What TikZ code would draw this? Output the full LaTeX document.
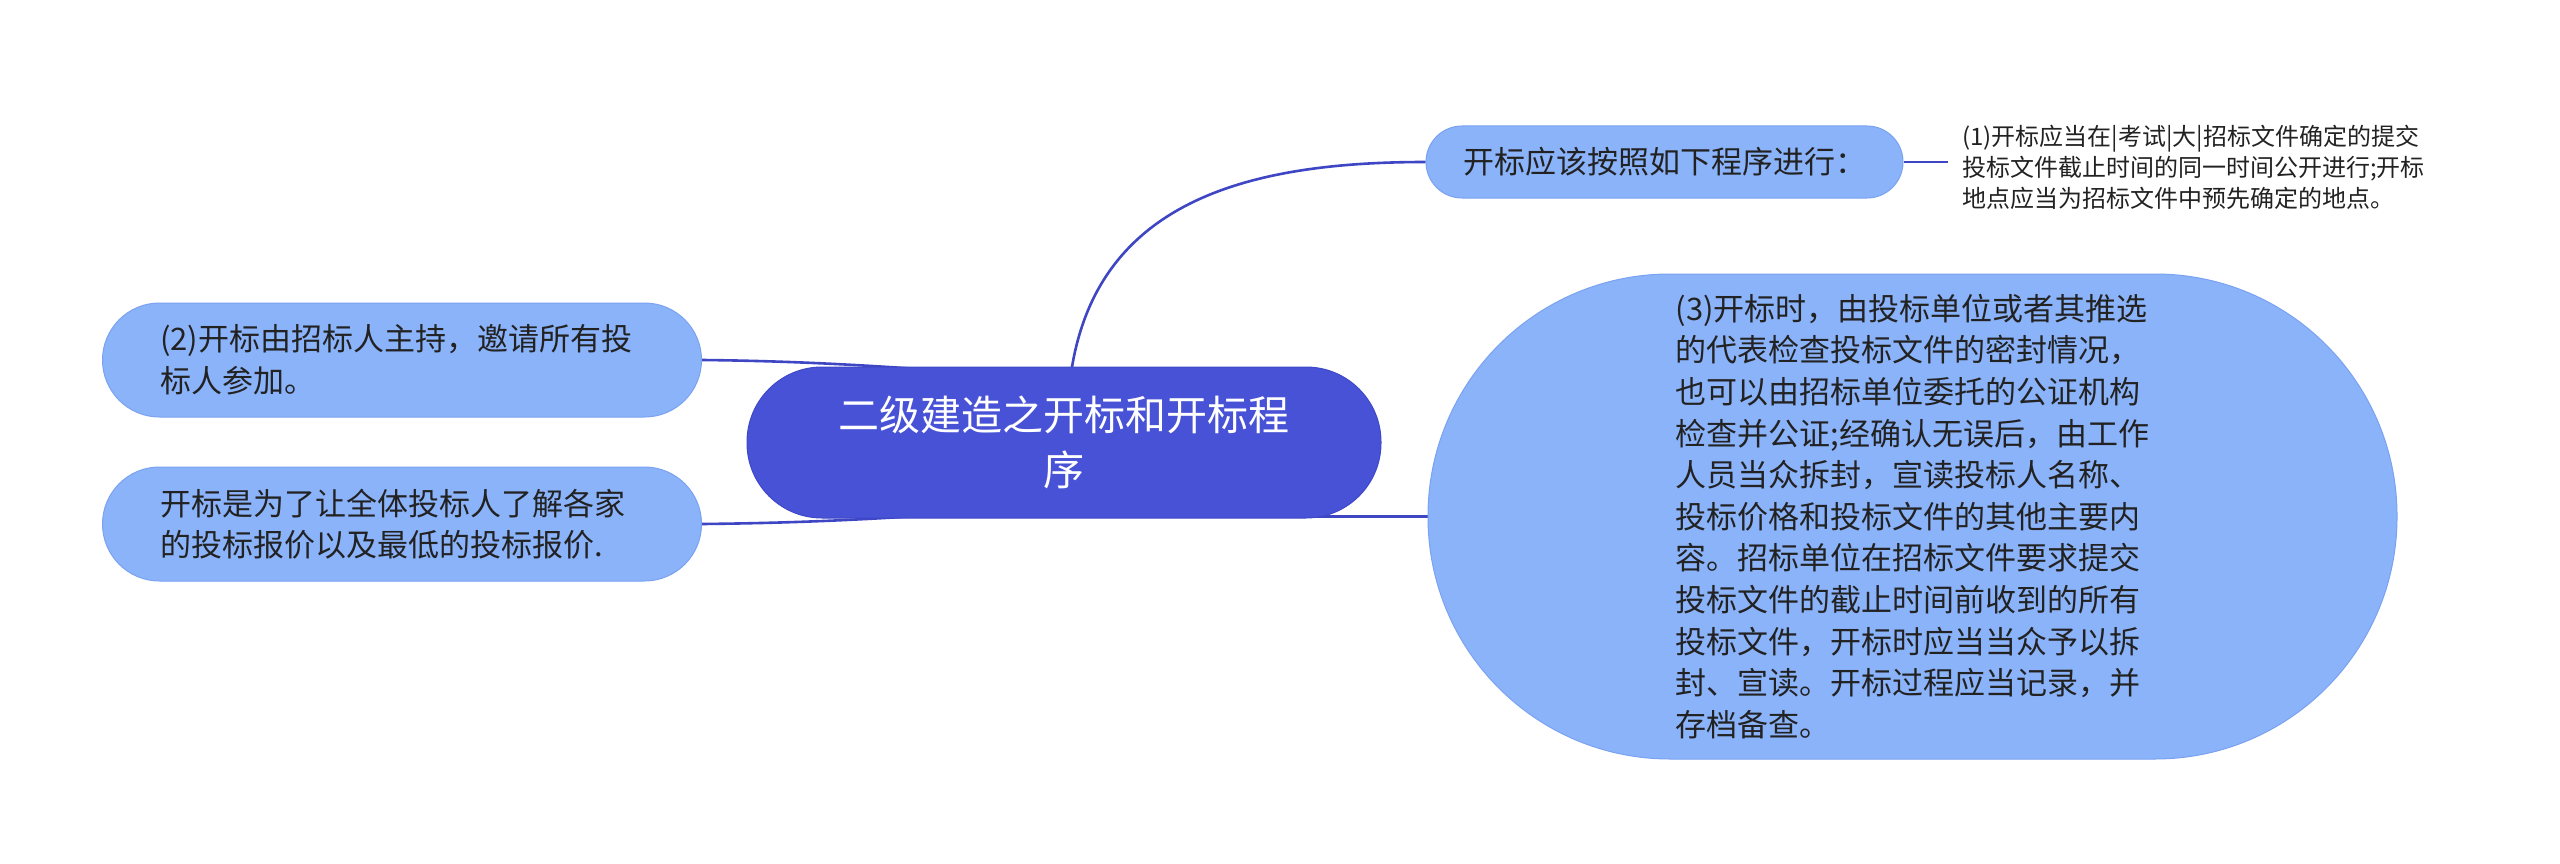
\documentclass[tikz,border=0pt]{standalone}
\usepackage{fontspec}
\setmainfont{Noto Sans CJK SC}
\usetikzlibrary{backgrounds}
\definecolor{rootfill}{RGB}{72,82,214}
\definecolor{rootdraw}{RGB}{62,72,200}
\definecolor{subfill}{RGB}{139,179,250}
\definecolor{subdraw}{RGB}{122,162,240}
\definecolor{linkc}{RGB}{62,70,196}
\definecolor{txt}{RGB}{34,34,34}
\tikzset{
  rootnode/.style={draw=rootdraw, line width=1pt, fill=rootfill, text=white,
    rounded corners=75pt, minimum width=634pt, minimum height=151pt,
    align=center, font=\fontsize{41}{55.5}\selectfont},
  subnode/.style={draw=subdraw, line width=1pt, fill=subfill, text=txt,
    font=\fontsize{31}{41.6}\selectfont},
  link/.style={draw=linkc, line width=2.6pt},
  plaintext/.style={text=txt, align=left, inner ysep=0pt, inner xsep=14pt,
    font=\fontsize{24}{31}\selectfont}
}
\begin{document}
\begin{tikzpicture}[x=1pt,y=-1pt]
\useasboundingbox (0,0) rectangle (2560,864);

\node[rootnode] (c) at (1064,442.5) {二级建造之开标和开标程\\序};

\node[subnode, rounded corners=36pt, minimum width=477pt, minimum height=72pt]
  (tr) at (1664.5,162) {开标应该按照如下程序进行：};

\node[plaintext, anchor=west] (t1) at (1948,167) {(1)开标应当在|考试|大|招标文件确定的提交\\投标文件截止时间的同一时间公开进行;开标\\地点应当为招标文件中预先确定的地点。};

\node[subnode, rounded corners=57pt, anchor=west, text width=484pt, inner xsep=57.5pt,
  minimum height=114pt, align=left] (l1) at (102,360)
  {(2)开标由招标人主持，邀请所有投\\标人参加。};

\node[subnode, rounded corners=57pt, anchor=west, text width=484pt, inner xsep=57.5pt,
  minimum height=114pt, align=left] (l2) at (102,524)
  {开标是为了让全体投标人了解各家\\的投标报价以及最低的投标报价.};

\node[subnode, rounded corners=242pt, minimum width=969pt, minimum height=485pt,
  align=left] (big) at (1912.5,516.5)
  {(3)开标时，由投标单位或者其推选\\的代表检查投标文件的密封情况，\\也可以由招标单位委托的公证机构\\检查并公证;经确认无误后，由工作\\人员当众拆封，宣读投标人名称、\\投标价格和投标文件的其他主要内\\容。招标单位在招标文件要求提交\\投标文件的截止时间前收到的所有\\投标文件，开标时应当当众予以拆\\封、宣读。开标过程应当记录，并\\存档备查。};

\coordinate (e1) at (960,372);
\coordinate (e2) at (960,513);
\coordinate (e3) at (1250,516.5);
\coordinate (s0) at (1072,367);

\begin{pgfonlayer}{background}
\fill[white] (0,0) rectangle (2560,864);
\draw[link] (s0) .. controls (1100,200) and (1250,162) .. (tr.west);
\draw[link] (l1.east) .. controls (800,361) and (880,366) .. (e1);
\draw[link] (l2.east) .. controls (800,523) and (880,519) .. (e2);
\draw[link] (e3) -- (big.west);
\draw[link] (tr.east) -- (tr.east -| t1.west);
\end{pgfonlayer}
\end{tikzpicture}
\end{document}
